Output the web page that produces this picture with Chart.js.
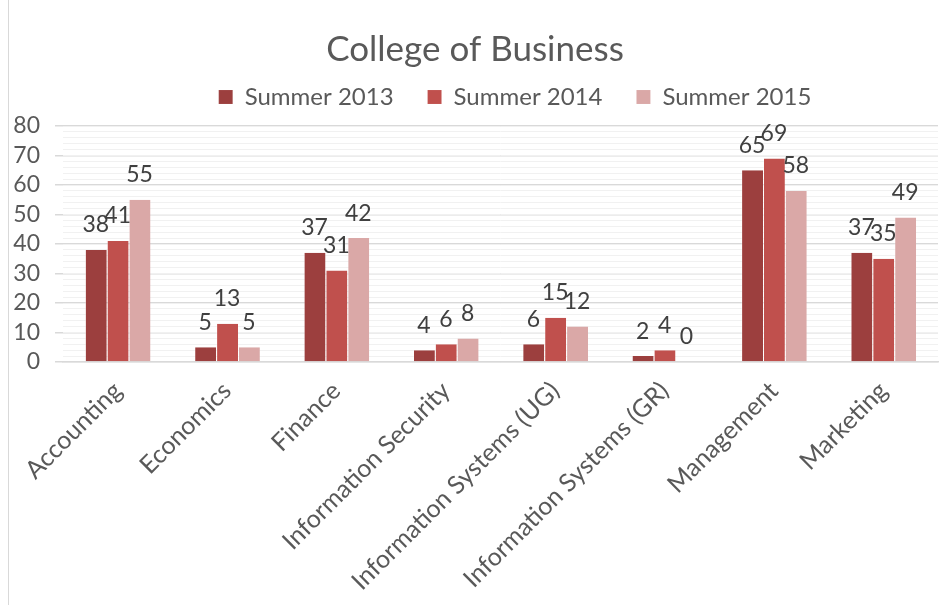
<!DOCTYPE html>
<html>
<head>
<meta charset="utf-8">
<script src="https://cdn.jsdelivr.net/npm/chart.js@4"></script>
<style>
  html, body { margin: 0; padding: 0; background: #fff; }
  #wrap { position: relative; width: 940px; height: 605px; overflow: hidden; }
  #frame { position: absolute; left: 8px; top: -2px; width: 940px; height: 620px; border: 1px solid #d9d9d9; box-sizing: border-box; }
  canvas { position: absolute; left: 0; top: 0; }
</style>
</head>
<body>
<div id="wrap">
  <div id="frame"></div>
  <canvas id="chart" width="940" height="605"></canvas>
</div>
<script>
const categories = ['Accounting', 'Economics', 'Finance', 'Information Security',
  'Information Systems (UG)', 'Information Systems (GR)', 'Management', 'Marketing'];
const summer2013 = [38, 5, 37, 4, 6, 2, 65, 37];
const summer2014 = [41, 13, 31, 6, 15, 4, 69, 35];
const summer2015 = [55, 5, 42, 8, 12, 0, 58, 49];
const yTicks = [0, 10, 20, 30, 40, 50, 60, 70, 80];

const FONT = 'Lato, "Open Sans", sans-serif';
Chart.defaults.font.family = FONT;
Chart.defaults.color = '#595959';

const valueLabels = {
  id: 'valueLabels',
  beforeInit(chart) {
    // legend: a bit more room below, and sits right of centre like the original
    const lg = chart.legend;
    if (lg) {
      const fit = lg.fit;
      lg.fit = function () { fit.call(this); this.height += 7; };
      const draw = lg.draw;
      lg.draw = function () {
        chart.ctx.save();
        chart.ctx.translate(40, 0);
        draw.call(this);
        chart.ctx.restore();
      };
    }
  },
  afterDatasetsDraw(chart) {
    const ctx = chart.ctx;
    ctx.save();
    ctx.font = '23px ' + FONT;
    ctx.fillStyle = '#404040';
    ctx.textAlign = 'center';
    ctx.textBaseline = 'middle';
    chart.data.datasets.forEach((ds, i) => {
      chart.getDatasetMeta(i).data.forEach((bar, j) => {
        ctx.fillText(String(ds.data[j]), bar.x, bar.y - 25);
      });
    });
    ctx.restore();
  }
};

new Chart(document.getElementById('chart').getContext('2d'), {
  type: 'bar',
  data: {
    labels: categories,
    datasets: [
      { label: 'Summer 2013', data: summer2013, backgroundColor: '#9C3F3E' },
      { label: 'Summer 2014', data: summer2014, backgroundColor: '#C0504D' },
      { label: 'Summer 2015', data: summer2015, backgroundColor: '#DAA8A7' }
    ]
  },
  options: {
    responsive: false,
    animation: false,
    layout: { padding: { left: 12, right: 2, top: 29, bottom: 0 } },
    datasets: {
      bar: { barPercentage: 1, categoryPercentage: 0.6, borderWidth: { left: 1, right: 0, top: 0, bottom: 0 }, borderColor: 'rgba(255,255,255,0.35)' }
    },
    plugins: {
      title: {
        display: true,
        text: 'College of Business',
        color: '#595959',
        font: { size: 35, weight: 'normal' },
        padding: { top: 0, bottom: -20 }
      },
      legend: {
        position: 'top',
        labels: {
          boxWidth: 14, boxHeight: 14, padding: 34,
          font: { size: 24 },
          color: '#595959'
        }
      },
      tooltip: { enabled: false }
    },
    scales: {
      x: {
        grid: { display: false },
        border: { color: '#d9d9d9', width: 1.5 },
        ticks: { maxRotation: 45, minRotation: 45, autoSkip: false, font: { size: 25 }, color: '#595959', padding: 6 },
        afterFit(scale) { scale.height = 243; }
      },
      y: {
        min: 0, max: 80,
        afterBuildTicks(scale) { scale.ticks = yTicks.map(v => ({ value: v })); },
        grid: { color: '#d9d9d9', lineWidth: 1.5 },
        border: { display: false },
        ticks: { autoSkip: false, font: { size: 23 }, color: '#595959', padding: 15 },
        afterFit(scale) { scale.width = 51; }
      },
      y2: {
        position: 'right',
        min: 0, max: 80,
        ticks: { display: false, stepSize: 2, autoSkip: false },
        grid: { color: '#f1f1f1', drawTicks: false },
        border: { display: false },
        afterFit(scale) { scale.width = 0; }
      }
    }
  },
  plugins: [valueLabels]
});
</script>
</body>
</html>
